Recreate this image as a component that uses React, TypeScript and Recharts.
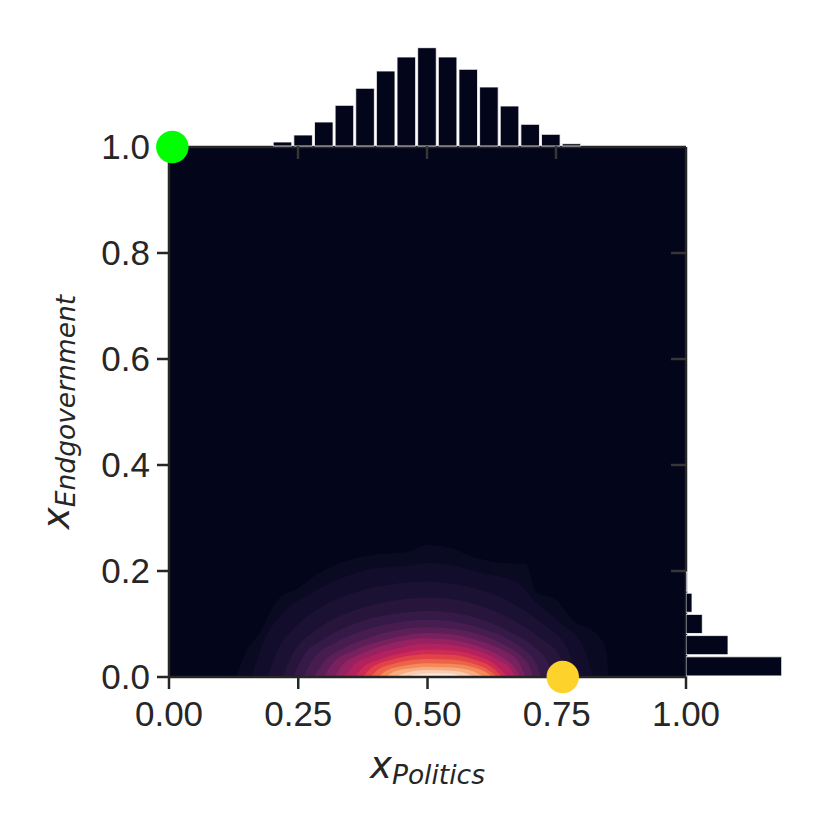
import React from "react";
import { Area, Bar, BarChart, CartesianGrid, ComposedChart, Scatter, XAxis, YAxis } from "recharts";

const INK = "#262626";
const BG = "#03051A";

// axes
const X_TICKS = [0, 0.25, 0.5, 0.75, 1];
const Y_TICKS = [0, 0.2, 0.4, 0.6, 0.8, 1];
const X_INNER_TICKS = [0.25, 0.5, 0.75];
const Y_INNER_TICKS = [0.2, 0.4, 0.6, 0.8];

// top marginal histogram (x_Politics), bins of 0.04
const TOP_BINS = [0.22, 0.26, 0.3, 0.34, 0.38, 0.42, 0.46, 0.5, 0.54, 0.58, 0.62, 0.66, 0.7, 0.74, 0.78];
const TOP_COUNTS = [40, 110, 240, 407, 577, 750, 890, 983, 890, 767, 590, 400, 217, 117, 23];

// right marginal histogram (x_Endgovernment)
const RIGHT_BINS = [0.02, 0.06, 0.1, 0.14, 0.18];
const RIGHT_COUNTS = [4163, 1827, 709, 261, 44];

// highlighted points
const GREEN_POINT = [{ x: 0.0064, y: 1.0 }];
const YELLOW_POINT = [{ x: 0.7616, y: 0.0 }];

// kde contour levels, outer -> inner, [x, upper edge]
const KDE_CONTOURS: number[][][] = [
  [[0.13, 0], [0.15, 0.05], [0.17, 0.075], [0.21, 0.145], [0.25, 0.168], [0.29, 0.196], [0.35, 0.221], [0.41, 0.232], [0.46, 0.236], [0.5, 0.249], [0.54, 0.245], [0.59, 0.226], [0.65, 0.215], [0.69, 0.213], [0.71, 0.161], [0.75, 0.145], [0.78, 0.108], [0.83, 0.078], [0.846, 0.05], [0.85, 0]],
  [[0.16, 0], [0.18, 0.06], [0.22, 0.12], [0.27, 0.155], [0.33, 0.185], [0.4, 0.205], [0.46, 0.21], [0.5, 0.215], [0.55, 0.21], [0.61, 0.195], [0.67, 0.18], [0.71, 0.14], [0.76, 0.1], [0.8, 0.06], [0.82, 0]],
  [[0.19, 0], [0.21, 0.05], [0.25, 0.1], [0.3, 0.135], [0.36, 0.16], [0.43, 0.175], [0.5, 0.18], [0.57, 0.172], [0.63, 0.155], [0.68, 0.13], [0.73, 0.095], [0.77, 0.055], [0.79, 0]],
  [[0.22, 0], [0.24, 0.045], [0.28, 0.085], [0.33, 0.115], [0.39, 0.135], [0.45, 0.146], [0.5, 0.15], [0.56, 0.145], [0.62, 0.128], [0.67, 0.105], [0.72, 0.072], [0.755, 0.04], [0.77, 0]],
  [[0.24, 0], [0.26, 0.04], [0.3, 0.072], [0.35, 0.097], [0.41, 0.115], [0.46, 0.122], [0.5, 0.125], [0.55, 0.121], [0.61, 0.107], [0.66, 0.085], [0.705, 0.058], [0.73, 0.032], [0.745, 0]],
  [[0.26, 0], [0.28, 0.035], [0.32, 0.064], [0.37, 0.086], [0.43, 0.101], [0.5, 0.108], [0.56, 0.103], [0.61, 0.09], [0.655, 0.072], [0.69, 0.049], [0.71, 0.026], [0.72, 0]],
  [[0.28, 0], [0.3, 0.029], [0.34, 0.055], [0.39, 0.075], [0.44, 0.088], [0.5, 0.094], [0.56, 0.089], [0.61, 0.077], [0.65, 0.06], [0.68, 0.04], [0.697, 0.02], [0.705, 0]],
  [[0.3, 0], [0.315, 0.024], [0.355, 0.049], [0.41, 0.068], [0.46, 0.079], [0.5, 0.083], [0.55, 0.08], [0.6, 0.068], [0.645, 0.051], [0.675, 0.03], [0.69, 0]],
  [[0.32, 0], [0.335, 0.022], [0.37, 0.043], [0.42, 0.061], [0.5, 0.073], [0.56, 0.068], [0.6, 0.057], [0.64, 0.04], [0.665, 0.021], [0.68, 0]],
  [[0.34, 0], [0.355, 0.02], [0.39, 0.039], [0.44, 0.054], [0.5, 0.063], [0.55, 0.06], [0.595, 0.05], [0.635, 0.033], [0.66, 0.016], [0.67, 0]],
  [[0.36, 0], [0.375, 0.018], [0.41, 0.034], [0.455, 0.046], [0.5, 0.052], [0.55, 0.05], [0.595, 0.04], [0.63, 0.024], [0.655, 0]],
  [[0.375, 0], [0.39, 0.016], [0.425, 0.031], [0.465, 0.04], [0.5, 0.043], [0.545, 0.042], [0.59, 0.033], [0.625, 0.018], [0.645, 0]],
  [[0.39, 0], [0.405, 0.014], [0.435, 0.025], [0.47, 0.032], [0.5, 0.034], [0.545, 0.033], [0.585, 0.026], [0.62, 0.012], [0.635, 0]],
  [[0.405, 0], [0.42, 0.012], [0.455, 0.021], [0.5, 0.026], [0.545, 0.025], [0.59, 0.018], [0.615, 0.008], [0.625, 0]],
  [[0.42, 0], [0.435, 0.01], [0.465, 0.016], [0.5, 0.019], [0.545, 0.018], [0.585, 0.012], [0.61, 0]],
  [[0.44, 0], [0.455, 0.007], [0.5, 0.013], [0.545, 0.012], [0.575, 0.007], [0.59, 0]],
  [[0.46, 0], [0.475, 0.004], [0.51, 0.007], [0.545, 0.006], [0.565, 0]],
];
// rocket-like colours for the levels
const KDE_COLORS = [
  "#0b0a23", "#120d2b", "#1b1133", "#27153c", "#351946", "#471c4f", "#5d1f57", "#78215e",
  "#962261", "#b3215e", "#cd2a54", "#e14348", "#ec6349", "#f38a5a", "#f6ad82", "#f8cdb1", "#faeadc",
];

const topData = TOP_BINS.map((x, i) => ({ x, count: TOP_COUNTS[i] }));
const rightData = RIGHT_BINS.map((y, i) => ({ y, count: RIGHT_COUNTS[i] }));
const kdeData = KDE_CONTOURS.map((lvl) => lvl.map(([x, y]) => ({ x, y })));

const tickFont = { fontSize: 35, fill: INK, fontFamily: "Liberation Sans, Arial, sans-serif" };
const spine = { stroke: INK, strokeWidth: 2.5 };
const innerTick = { stroke: "#363636", strokeWidth: 2.5 };
const noLabel = () => <g />;

const XLabel = (props: any) => {
  const { viewBox } = props;
  const cx = viewBox.x + viewBox.width / 2;
  return (
    <text x={cx} y={viewBox.y + 101} textAnchor="middle" fill={INK} fontFamily="DejaVu Sans" fontStyle="italic">
      <tspan fontSize={37}>x</tspan>
      <tspan fontSize={26.5} dy={6}>Politics</tspan>
    </text>
  );
};

const YLabel = (props: any) => {
  const { viewBox } = props;
  const cy = viewBox.y + viewBox.height / 2;
  const x = 69;
  return (
    <text x={x} y={cy} transform={`rotate(-90 ${x} ${cy})`} textAnchor="middle" fill={INK} fontFamily="DejaVu Sans" fontStyle="italic">
      <tspan fontSize={37}>x</tspan>
      <tspan fontSize={26.5} dy={6}>Endgovernment</tspan>
    </text>
  );
};

const dot = (color: string) => (p: any) => <circle cx={p.cx} cy={p.cy} r={16.2} fill={color} />;

export default function App() {
  return (
    <div style={{ position: "absolute", left: 0, top: 0, width: 830, height: 830, background: "#fff" }}>
      <div style={{ position: "absolute", left: 0, top: 0 }}>
        <ComposedChart width={830} height={830} margin={{ top: 146, right: 144, bottom: 0, left: 0 }}>
          <CartesianGrid fill={BG} horizontal={false} vertical={false} />
          <XAxis
            type="number" dataKey="x" domain={[0, 1]} ticks={X_TICKS} height={153}
            tickFormatter={(v) => v.toFixed(2)} tick={tickFont} tickSize={12} tickMargin={12}
            axisLine={spine} tickLine={spine} label={<XLabel />}
          />
          <XAxis
            xAxisId="top" orientation="top" type="number" domain={[0, 1]} allowDataOverflow ticks={X_INNER_TICKS}
            height={1} tick={noLabel} tickLine={false} axisLine={spine}
          />
          <YAxis
            type="number" dataKey="y" domain={[0, 1]} ticks={Y_TICKS} width={169}
            tickFormatter={(v) => v.toFixed(1)} tick={tickFont} tickSize={12} tickMargin={7}
            axisLine={spine} tickLine={spine} label={<YLabel />}
          />
          <YAxis
            yAxisId="right" orientation="right" type="number" domain={[0, 1]} allowDataOverflow ticks={Y_INNER_TICKS}
            width={1} mirror tick={noLabel} tickSize={15} axisLine={spine} tickLine={innerTick}
          />
          {kdeData.map((d, i) => (
            <Area
              key={i} data={d} dataKey="y" type="monotone" fill={KDE_COLORS[i]} fillOpacity={1}
              stroke="none" isAnimationActive={false} dot={false} activeDot={false}
            />
          ))}
          <Scatter data={GREEN_POINT} dataKey="y" fill="#00ff00" shape={dot("#00ff00")} isAnimationActive={false} />
          <Scatter data={YELLOW_POINT} dataKey="y" fill="#fdd22b" shape={dot("#fdd22b")} isAnimationActive={false} />
        </ComposedChart>
      </div>
      <div style={{ position: "absolute", left: 169, top: 40 }}>
        <BarChart width={516} height={120} data={topData} margin={{ top: 0, right: 0, bottom: 0, left: 0 }}>
          <XAxis
            type="number" dataKey="x" domain={[0, 1]} ticks={X_INNER_TICKS} interval={0} height={14}
            axisLine={false} tick={noLabel} tickSize={13} tickLine={innerTick}
          />
          <YAxis type="number" domain={[0, 1060]} hide />
          <Bar dataKey="count" fill={BG} stroke="#ffffff" strokeWidth={0.8} barSize={20.64} isAnimationActive={false} />
        </BarChart>
      </div>
      <div style={{ position: "absolute", left: 686, top: 147 }}>
        <BarChart layout="vertical" width={106} height={530} data={rightData} margin={{ top: 0, right: 0, bottom: 0, left: 0 }}>
          <XAxis type="number" domain={[0, 4611]} hide />
          <YAxis type="number" dataKey="y" domain={[0, 1]} reversed hide />
          <Bar dataKey="count" fill={BG} stroke="#ffffff" strokeWidth={0.8} barSize={21.2} isAnimationActive={false} />
        </BarChart>
      </div>
    </div>
  );
}
